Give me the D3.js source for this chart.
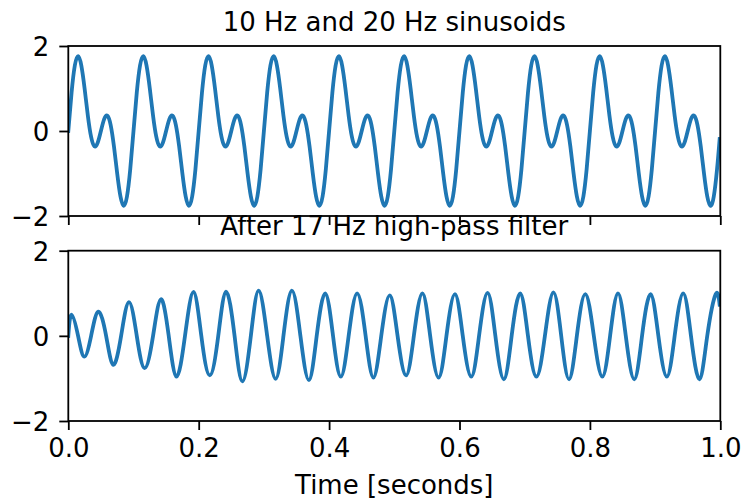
<!DOCTYPE html>
<html>
<head>
<meta charset="utf-8">
<script src="https://cdn.jsdelivr.net/npm/d3@7"></script>
<style>
  html, body { margin: 0; padding: 0; background: #fff; }
  svg { display: block; }
  text { font-family: "DejaVu Sans", sans-serif; fill: #000; }
</style>
</head>
<body>
<svg id="chart" width="743" height="498"></svg>
<script>
// ---------------- data ----------------
const titles = ["10 Hz and 20 Hz sinusoids", "After 17 Hz high-pass filter"];
const xLabel = "Time [seconds]";
const xTicks = [0, 0.2, 0.4, 0.6, 0.8, 1.0];
const yTicks = [-2, 0, 2];

// top panel: sampled every 0.005 s, plus the final sample at 0.999 s
const topTime = d3.range(200).map(i => i / 200).concat([0.999]);
const topValue = [
  0, 0.90, 1.54, 1.76, 1.54, 1.00, 0.36, -0.14, -0.36, -0.28, 0, 0.28, 0.36, 0.14, -0.36, -1.00, -1.54, -1.76, -1.54, -0.90,
  0, 0.90, 1.54, 1.76, 1.54, 1.00, 0.36, -0.14, -0.36, -0.28, 0, 0.28, 0.36, 0.14, -0.36, -1.00, -1.54, -1.76, -1.54, -0.90,
  0, 0.90, 1.54, 1.76, 1.54, 1.00, 0.36, -0.14, -0.36, -0.28, 0, 0.28, 0.36, 0.14, -0.36, -1.00, -1.54, -1.76, -1.54, -0.90,
  0, 0.90, 1.54, 1.76, 1.54, 1.00, 0.36, -0.14, -0.36, -0.28, 0, 0.28, 0.36, 0.14, -0.36, -1.00, -1.54, -1.76, -1.54, -0.90,
  0, 0.90, 1.54, 1.76, 1.54, 1.00, 0.36, -0.14, -0.36, -0.28, 0, 0.28, 0.36, 0.14, -0.36, -1.00, -1.54, -1.76, -1.54, -0.90,
  0, 0.90, 1.54, 1.76, 1.54, 1.00, 0.36, -0.14, -0.36, -0.28, 0, 0.28, 0.36, 0.14, -0.36, -1.00, -1.54, -1.76, -1.54, -0.90,
  0, 0.90, 1.54, 1.76, 1.54, 1.00, 0.36, -0.14, -0.36, -0.28, 0, 0.28, 0.36, 0.14, -0.36, -1.00, -1.54, -1.76, -1.54, -0.90,
  0, 0.90, 1.54, 1.76, 1.54, 1.00, 0.36, -0.14, -0.36, -0.28, 0, 0.28, 0.36, 0.14, -0.36, -1.00, -1.54, -1.76, -1.54, -0.90,
  0, 0.90, 1.54, 1.76, 1.54, 1.00, 0.36, -0.14, -0.36, -0.28, 0, 0.28, 0.36, 0.14, -0.36, -1.00, -1.54, -1.76, -1.54, -0.90,
  0, 0.90, 1.54, 1.76, 1.54, 1.00, 0.36, -0.14, -0.36, -0.28, 0, 0.28, 0.36, 0.14, -0.36, -1.00, -1.54, -1.76, -1.54, -0.90,
  -0.19
];

// bottom panel: extrema and zero crossings
const bottomTime = [
  0, 0.005,
  0.015, 0.0245, 0.035, 0.046, 0.058, 0.069, 0.081, 0.093, 0.105, 0.117,
  0.130, 0.142, 0.154, 0.166, 0.179, 0.192, 0.204, 0.217, 0.230, 0.242,
  0.255, 0.267, 0.280, 0.292, 0.305, 0.318, 0.330, 0.343, 0.356, 0.369,
  0.381, 0.394, 0.406, 0.418, 0.430, 0.443, 0.456, 0.468, 0.480, 0.493,
  0.505, 0.518, 0.530, 0.543, 0.555, 0.568, 0.580, 0.593, 0.605, 0.618,
  0.630, 0.643, 0.655, 0.668, 0.680, 0.693, 0.705, 0.718, 0.731, 0.744,
  0.756, 0.768, 0.780, 0.793, 0.806, 0.819, 0.831, 0.843, 0.855, 0.868,
  0.880, 0.893, 0.905, 0.918, 0.930, 0.943, 0.955, 0.968, 0.980, 0.993,
  0.999
];
const bottomValue = [
  0, 0.50,
  0, -0.49, 0, 0.57, 0, -0.68, 0, 0.79, 0, -0.76,
  0, 0.86, 0, -0.96, 0, 1.03, 0, -0.93, 0, 1.04,
  0, -1.07, 0, 1.06, 0, -1.01, 0, 1.06, 0, -1.04,
  0, 1.00, 0, -0.96, 0, 1.00, 0, -0.98, 0, 0.95,
  0, -0.93, 0, 1.00, 0, -0.98, 0, 0.98, 0, -0.96,
  0, 1.01, 0, -1.02, 0, 1.00, 0, -0.96, 0, 1.02,
  0, -1.02, 0, 0.98, 0, -0.96, 0, 1.00, 0, -1.02,
  0, 0.98, 0, -0.96, 0, 1.00, 0, -1.02, 0, 0.98,
  0.73
];

// ---------------- drawing ----------------
const svg = d3.select("#chart");
const FONT = 26;
const left = 68.3, right = 720.3;
const x = d3.scaleLinear().domain([0, 1]).range([left, right]);

const panels = [
  { top: 46, bottom: 216, time: topTime, value: topValue, title: titles[0], labels: false },
  { top: 250.7, bottom: 421, time: bottomTime, value: bottomValue, title: titles[1], labels: true }
];

const fmtY = d => d < 0 ? "\u2212" + Math.abs(d) : String(d);

panels.forEach((p, i) => {
  const y = d3.scaleLinear().domain([-2, 2]).range([p.bottom, p.top]);
  const g = svg.append("g");

  // clip
  const cid = "clip" + i;
  svg.append("defs").append("clipPath").attr("id", cid)
    .append("rect").attr("x", left).attr("y", p.top)
    .attr("width", right - left).attr("height", p.bottom - p.top);

  // title
  g.append("text")
    .attr("x", (left + right) / 2).attr("y", p.top - 15.5)
    .attr("text-anchor", "middle")
    .style("font-size", FONT + "px")
    .text(p.title);

  // line
  const pts = p.time.map((t, k) => [t, p.value[k]]);
  const line = d3.line().x(d => x(d[0])).y(d => y(d[1])).curve(d3.curveNatural);
  g.append("path").datum(pts)
    .attr("clip-path", `url(#${cid})`)
    .attr("fill", "none").attr("stroke", "#1f77b4")
    .attr("stroke-width", 3.8).attr("stroke-linejoin", "round").attr("stroke-linecap", "square")
    .attr("d", line);

  // x axis
  const xa = d3.axisBottom(x).tickValues(xTicks).tickSize(9).tickPadding(9)
    .tickFormat(p.labels ? d3.format(".1f") : () => "");
  const gx = g.append("g").attr("transform", `translate(0,${p.bottom})`).call(xa);
  gx.select(".domain").remove();
  gx.selectAll(".tick line").attr("stroke", "#000").attr("stroke-width", 1.8);
  gx.selectAll(".tick text").style("font-size", FONT + "px").attr("font-family", "DejaVu Sans").attr("fill", "#000");

  // y axis
  const ya = d3.axisLeft(y).tickValues(yTicks).tickSize(9).tickPadding(10).tickFormat(fmtY);
  const gy = g.append("g").attr("transform", `translate(${left},0)`).call(ya);
  gy.select(".domain").remove();
  gy.selectAll(".tick line").attr("stroke", "#000").attr("stroke-width", 1.8);
  gy.selectAll(".tick text").style("font-size", FONT + "px").attr("dy", "0.38em")
    .attr("font-family", "DejaVu Sans").attr("fill", "#000");

  // frame
  g.append("rect").attr("x", left).attr("y", p.top)
    .attr("width", right - left).attr("height", p.bottom - p.top)
    .attr("fill", "none").attr("stroke", "#000").attr("stroke-width", 1.8);
});

svg.append("text")
  .attr("x", (left + right) / 2).attr("y", 493.5)
  .attr("text-anchor", "middle")
  .style("font-size", FONT + "px")
  .text(xLabel);
</script>
</body>
</html>
